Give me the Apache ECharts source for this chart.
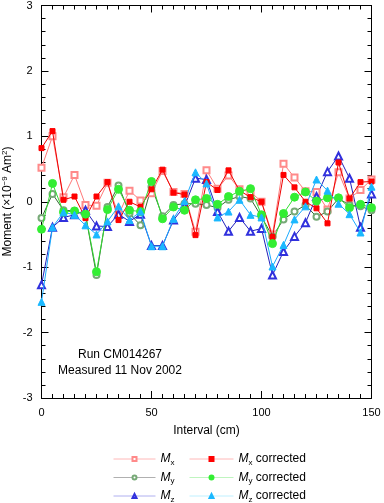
<!DOCTYPE html>
<html><head><meta charset="utf-8">
<script src="https://cdn.jsdelivr.net/npm/echarts@6/dist/echarts.min.js"></script>
<style>html,body{margin:0;padding:0;background:#fff}#c{width:384px;height:503px}</style>
</head><body><div id="c"></div>
<script>
var intervals = [0,5,10,15,20,25,30,35,40,45,50,55,60,65,70,75,80,85,90,95,100,105,110,115,120,125,130,135,140,145,150];
var mxUnc  = [0.52,1.00,0.07,0.41,-0.05,-0.06,0.29,-0.20,0.17,0.02,0.13,0.47,0.15,0.12,-0.46,0.48,0.20,0.40,0.19,0.15,0.00,-0.50,0.58,0.37,0.16,0.15,-0.12,0.45,0.05,0.18,0.34];
var myUnc  = [-0.25,0.12,-0.13,-0.14,-0.20,-1.12,-0.08,0.25,-0.18,-0.36,0.23,-0.22,-0.05,-0.03,-0.03,-0.05,-0.09,0.03,0.08,0.05,-0.23,-0.53,-0.27,-0.15,-0.05,-0.23,-0.15,0.05,-0.05,-0.07,-0.13];
var mzUnc  = [-1.27,-0.39,-0.24,-0.20,-0.13,-0.37,-0.38,-0.19,-0.30,-0.19,-0.67,-0.67,-0.28,-0.07,0.36,0.34,-0.15,-0.45,-0.24,-0.45,-0.41,-1.12,-0.76,-0.53,-0.32,0.08,0.46,0.70,0.36,-0.39,0.12];
var mxCorr = [0.82,1.08,0.03,0.08,-0.25,0.08,0.30,-0.28,0.00,-0.08,0.19,0.49,0.14,0.11,-0.51,0.30,0.18,0.48,0.17,0.07,0.00,-0.54,0.41,0.22,0.00,-0.10,-0.33,0.60,0.05,0.30,0.31];
var myCorr = [-0.42,0.28,-0.16,-0.14,-0.19,-1.07,-0.12,0.19,-0.13,-0.15,0.31,-0.26,-0.08,-0.13,0.03,0.05,-0.04,0.08,0.16,0.20,-0.20,-0.64,-0.18,0.07,0.15,0.01,0.06,0.06,-0.09,-0.04,-0.09];
var mzCorr = [-1.53,-0.39,-0.16,-0.20,-0.36,-0.50,-0.30,-0.07,-0.28,-0.15,-0.68,-0.68,-0.26,0.01,0.45,0.28,-0.24,-0.15,0.03,-0.20,-0.24,-0.99,-0.66,-0.27,-0.07,0.34,0.17,-0.03,-0.19,-0.47,0.23];
var yTicks = [-3,-2,-1,0,1,2,3];
var xTicks = [0,50,100,150];
var annotation = ['Run CM014267', 'Measured 11 Nov 2002'];

function pairs(v){ return intervals.map(function(x,i){ return [x, v[i]]; }); }
var FONT = 'Liberation Sans';
var chart = echarts.init(document.getElementById('c'), null, {renderer:'canvas'});

function mkSeries(name, vals, sym, size, color, lineColor, z){
  return {name:name, type:'line', data:pairs(vals), symbol:sym, symbolSize:size,
    showAllSymbol:true, z:z,
    lineStyle:{color:lineColor, width:1},
    itemStyle:{color:color, borderColor:color, borderWidth:1},
    emphasis:{disabled:true}, animation:false};
}
var rich = {
  i:{fontFamily:FONT, fontStyle:'italic', fontSize:12, color:'#000'},
  s:{fontFamily:FONT, fontSize:8, color:'#000', padding:[7,0,0,0]},
  t:{fontFamily:FONT, fontSize:12, color:'#000'}
};
function legendFmt(name){
  var sub = name.charAt(1);
  var rest = name.length > 2 ? '{t|' + name.slice(2) + '}' : '';
  return '{i|M}{s|' + sub + '}' + rest;
}
function frame(){
  return {
    axisLine:{show:true, onZero:false, lineStyle:{color:'#000', width:1}},
    axisTick:{show:true, inside:true, length:7, lineStyle:{color:'#000'}},
    splitLine:{show:false}
  };
}

chart.setOption({
  backgroundColor:'#fff',
  animation:false,
  grid:{left:41.5, right:12.5, top:5, bottom:105, containLabel:false},
  xAxis:[
    Object.assign({type:'value', min:0, max:150, interval:50, position:'bottom',
      name:'Interval (cm)', nameLocation:'middle', nameGap:27,
      nameTextStyle:{fontFamily:FONT, fontSize:12, color:'#000'},
      axisLabel:{fontFamily:FONT, fontSize:11, color:'#000', margin:9,
        formatter:function(v){ return xTicks.indexOf(v) >= 0 ? String(v) : ''; }},
      minorTick:{show:true, splitNumber:10, length:4, lineStyle:{color:'#000'}}
    }, frame()),
    Object.assign({type:'value', min:0, max:150, interval:50, position:'top',
      axisLabel:{show:false},
      minorTick:{show:true, splitNumber:10, length:4, lineStyle:{color:'#000'}}
    }, frame())
  ],
  yAxis:[
    Object.assign({type:'value', min:-3, max:3, interval:1, position:'left',
      axisLabel:{fontFamily:FONT, fontSize:11, color:'#000', margin:9,
        formatter:function(v){ return yTicks.indexOf(v) >= 0 ? String(v) : ''; }},
      minorTick:{show:true, splitNumber:5, length:4, lineStyle:{color:'#000'}}
    }, frame()),
    Object.assign({type:'value', min:-3, max:3, interval:1, position:'right',
      axisLabel:{show:false},
      minorTick:{show:true, splitNumber:5, length:4, lineStyle:{color:'#000'}}
    }, frame())
  ],
  legend:[
    {orient:'vertical', left:113, top:453, width:80, height:60, itemWidth:42, itemHeight:5, itemGap:5,
     formatter:legendFmt, textStyle:{rich:rich}, padding:0,
     selectedMode:false,
     data:[
       {name:'Mx', lineStyle:{color:'#ffb8b8', width:1}},
       {name:'My', lineStyle:{color:'#b0b0b0', width:1}},
       {name:'Mz', lineStyle:{color:'#b0b0f0', width:1}}
     ]},
    {orient:'vertical', left:189, top:453, width:150, height:60, itemWidth:44, itemHeight:5, itemGap:5,
     formatter:legendFmt, textStyle:{rich:rich}, padding:0,
     selectedMode:false,
     data:[
       {name:'Mx corrected', lineStyle:{color:'#ffb8b8', width:1}},
       {name:'My corrected', lineStyle:{color:'#bff5bf', width:1}},
       {name:'Mz corrected', lineStyle:{color:'#bff0ff', width:1}}
     ]}
  ],
  graphic:[
    {type:'text', x:8, y:201.5, rotation:Math.PI/2,
     style:{text:'Moment (\u00d710{sup|\u22129} Am{sup|2})', fontFamily:FONT, fontSize:12, fill:'#000',
       align:'center', verticalAlign:'middle',
       rich:{sup:{fontFamily:FONT, fontSize:8, fill:'#000', padding:[0,0,7,0]}}}},
    {type:'text', x:120, y:349, style:{text:annotation[0], fontFamily:FONT, fontSize:12, fill:'#000', textAlign:'center'}},
    {type:'text', x:120, y:365, style:{text:annotation[1], fontFamily:FONT, fontSize:12, fill:'#000', textAlign:'center'}}
  ],
  series:[
    mkSeries('Mx', mxUnc, 'emptyRect', 6, '#ff8a8a', '#ff7878', 2),
    mkSeries('My', myUnc, 'emptyCircle', 6, '#77aa77', '#336633', 2),
    mkSeries('Mz', mzUnc, 'emptyTriangle', 7, '#3030dd', '#2020bb', 2),
    mkSeries('Mx corrected', mxCorr, 'rect', 5, '#ff0000', '#ee0000', 3),
    mkSeries('My corrected', myCorr, 'circle', 8, '#33ee33', '#33dd33', 3),
    mkSeries('Mz corrected', mzCorr, 'triangle', 7, '#1ab8ff', '#1aaaff', 3)
  ]
});
</script></body></html>
